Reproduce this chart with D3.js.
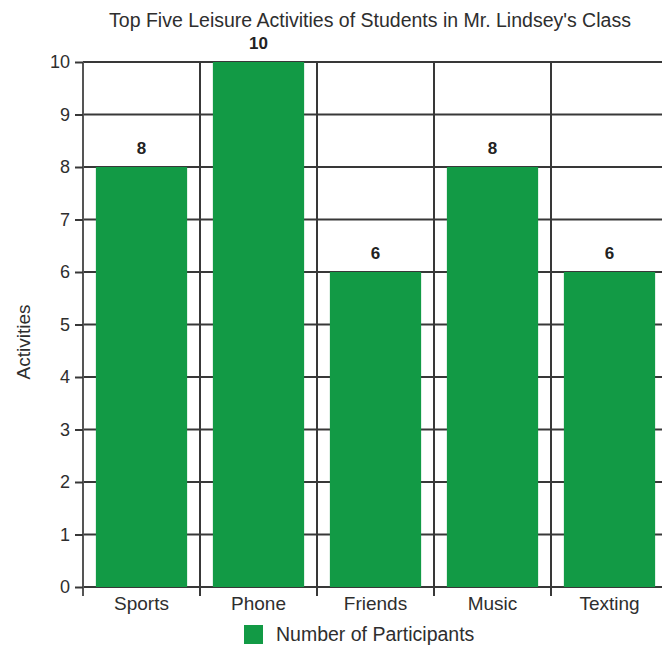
<!DOCTYPE html>
<html>
<head>
<meta charset="utf-8">
<script src="https://cdn.jsdelivr.net/npm/d3@7"></script>
<style>
  body { margin: 0; background: #fff; }
  svg { display: block; font-family: "Liberation Sans", Arial, sans-serif; }
</style>
</head>
<body>
<svg width="662" height="650"></svg>
<script>
const categories = ['Sports', 'Phone', 'Friends', 'Music', 'Texting'];
const participants = [8, 10, 6, 8, 6];
const yTicks = [0, 1, 2, 3, 4, 5, 6, 7, 8, 9, 10];
const titleText = "Top Five Leisure Activities of Students in Mr. Lindsey's Class";
const yTitle = 'Activities';
const legendLabel = 'Number of Participants';

(function(d3) {
  'use strict';

  const svg = d3.select('svg');
  const green = '#129a45';
  const lineColor = '#383838';
  const textColor = '#2e2e2e';

  const margin = { top: 62, left: 83, bottom: 63 };
  const plotRight = 668;
  const y0 = 650 - margin.bottom;

  const data = categories.map((c, i) => ({ cat: c, value: participants[i] }));

  // cells between the vertical grid lines
  const cell = d3.scaleBand()
      .domain(categories)
      .range([margin.left, plotRight])
      .padding(0);

  const x = d3.scaleBand()
      .domain(categories)
      .range([margin.left, plotRight])
      .paddingInner(0.22)
      .paddingOuter(0.11);

  const y = d3.scaleLinear()
      .domain([0, 10])
      .range([y0, margin.top]);

  // horizontal grid lines
  svg.append('g')
      .selectAll('line')
      .data(yTicks)
      .enter().append('line')
      .attr('x1', margin.left)
      .attr('x2', 662)
      .attr('y1', d => y(d))
      .attr('y2', d => y(d))
      .style('stroke', lineColor)
      .style('stroke-width', 2);

  // vertical grid lines between categories
  svg.append('g')
      .selectAll('line')
      .data(categories.slice(1))
      .enter().append('line')
      .attr('x1', d => cell(d))
      .attr('x2', d => cell(d))
      .attr('y1', margin.top)
      .attr('y2', y0 + 9)
      .style('stroke', lineColor)
      .style('stroke-width', 2);

  // bars
  svg.append('g')
      .selectAll('rect')
      .data(data)
      .enter().append('rect')
      .attr('x', d => x(d.cat))
      .attr('y', d => y(d.value))
      .attr('width', x.bandwidth())
      .attr('height', d => y0 - y(d.value))
      .style('fill', green);

  // value labels
  svg.append('g')
      .selectAll('text')
      .data(data)
      .enter().append('text')
      .attr('x', d => x(d.cat) + x.bandwidth() / 2)
      .attr('y', d => y(d.value) - 13)
      .attr('text-anchor', 'middle')
      .style('font-size', '17px')
      .style('font-weight', 'bold')
      .style('fill', '#222')
      .text(d => d.value);

  // y axis
  const yAxis = d3.axisLeft(y)
      .tickValues(yTicks)
      .tickSize(8)
      .tickPadding(5);
  const yg = svg.append('g')
      .attr('transform', `translate(${margin.left},0)`)
      .call(yAxis);
  yg.select('.domain')
      .attr('d', `M0,${margin.top}V${y0 + 9}`)
      .style('stroke', '#555')
      .style('stroke-width', 2);
  yg.selectAll('.tick line').style('stroke', lineColor).style('stroke-width', 2);
  yg.selectAll('.tick text')
      .style('font-size', '18px')
      .style('fill', textColor)
      .style('font-family', '"Liberation Sans", Arial, sans-serif');

  // x labels
  svg.append('g')
      .selectAll('text')
      .data(categories)
      .enter().append('text')
      .attr('x', d => x(d) + x.bandwidth() / 2)
      .attr('y', y0 + 23)
      .attr('text-anchor', 'middle')
      .style('font-size', '19px')
      .style('fill', textColor)
      .text(d => d);

  // title
  svg.append('text')
      .attr('x', 370)
      .attr('y', 27)
      .attr('text-anchor', 'middle')
      .style('font-size', '19.5px')
      .style('fill', textColor)
      .text(titleText);

  // y title
  svg.append('text')
      .attr('transform', 'translate(30,342) rotate(-90)')
      .attr('text-anchor', 'middle')
      .style('font-size', '19px')
      .style('fill', textColor)
      .text(yTitle);

  // legend
  const legend = svg.append('g').attr('transform', 'translate(244,625)');
  legend.append('rect')
      .attr('width', 19)
      .attr('height', 19)
      .style('fill', green);
  legend.append('text')
      .attr('x', 32)
      .attr('y', 16)
      .style('font-size', '19.5px')
      .style('fill', textColor)
      .text(legendLabel);

}(d3));
</script>
</body>
</html>
